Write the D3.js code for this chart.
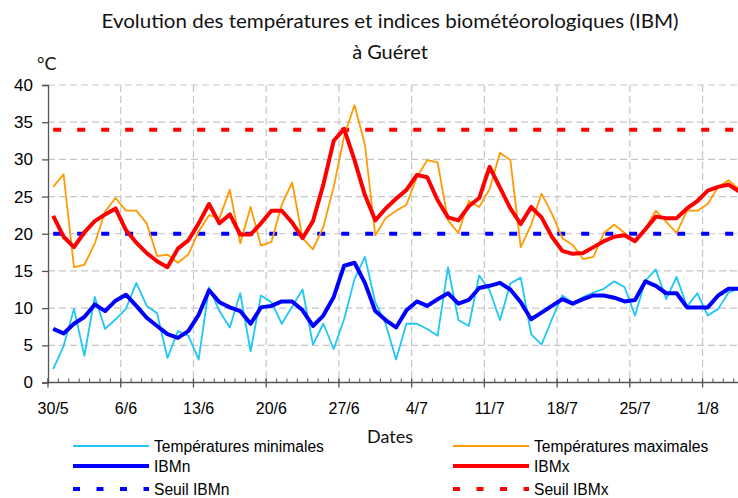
<!DOCTYPE html>
<html>
<head>
<meta charset="utf-8">
<script src="https://cdn.jsdelivr.net/npm/d3@7"></script>
<style>
  body { margin: 0; background: #fff; }
  svg { display: block; }
</style>
</head>
<body>
<div id="root"></div>
<script>
// daily values, 30/5 -> 4/8
const tmin = [
  1.8, 4.9, 9.9, 3.6, 11.5, 7.2, 8.5, 9.9, 13.4, 10.3,
  9.3, 3.3, 6.9, 6.3, 3.1, 12.8, 9.6, 7.4, 12.0, 4.2,
  11.7, 10.8, 7.9, 10.2, 12.5, 5.1, 7.9, 4.5, 8.5, 13.9,
  16.9, 10.8, 7.9, 3.1, 7.9, 7.9, 7.2, 6.3, 15.5, 8.4,
  7.6, 14.4, 12.4, 8.4, 13.3, 14.1, 6.5, 5.1, 8.5, 11.7,
  10.7, 11.5, 12.1, 12.6, 13.6, 12.8, 9.0, 13.7, 15.2, 11.2,
  14.2, 10.2, 12.0, 9.0, 9.9, 12.1, 12.6,
];
const tmax = [
  26.3, 28.0, 15.5, 15.8, 18.7, 23.0, 24.8, 23.1, 23.1, 21.4,
  17.0, 17.2, 16.1, 17.2, 20.3, 22.5, 22.1, 25.9, 18.7, 23.6,
  18.4, 18.9, 23.9, 26.9, 19.4, 17.9, 20.9, 26.3, 33.1, 37.3,
  32.0, 19.8, 22.1, 23.1, 23.9, 27.6, 29.9, 29.6, 21.8, 20.1,
  24.4, 23.6, 26.0, 30.9, 29.9, 18.2, 21.2, 25.4, 22.7, 19.4,
  18.5, 16.6, 16.9, 20.1, 21.2, 20.1, 19.1, 20.7, 23.1, 21.6,
  20.1, 23.1, 23.1, 24.0, 26.3, 27.2, 26.0,
];
const ibmn = [
  7.2, 6.6, 7.9, 8.8, 10.5, 9.6, 11.0, 11.8, 10.3, 8.7,
  7.6, 6.5, 6.0, 6.9, 9.1, 12.4, 10.8, 10.1, 9.6, 7.9,
  10.1, 10.3, 10.9, 10.9, 9.7, 7.6, 9.0, 11.5, 15.7, 16.1,
  13.4, 9.6, 8.4, 7.4, 9.7, 10.9, 10.3, 11.2, 12.0, 10.6,
  11.1, 12.7, 13.0, 13.4, 12.5, 10.8, 8.5, 9.4, 10.3, 11.2,
  10.6, 11.2, 11.7, 11.7, 11.4, 10.9, 11.1, 13.6, 13.0, 12.0,
  12.0, 10.1, 10.1, 10.1, 11.7, 12.6, 12.6,
];
const ibmx = [
  22.4, 19.6, 18.2, 20.2, 21.7, 22.6, 23.4, 20.5, 18.8, 17.4,
  16.3, 15.5, 18.0, 19.1, 21.4, 24.0, 21.4, 22.6, 19.9, 19.9,
  21.4, 23.1, 23.1, 21.5, 19.4, 21.7, 26.6, 32.5, 34.1, 29.9,
  25.2, 21.8, 23.4, 24.7, 25.9, 27.9, 27.6, 24.5, 22.2, 21.8,
  23.7, 24.8, 29.0, 26.2, 23.4, 21.3, 23.6, 22.2, 19.6, 17.7,
  17.3, 17.4, 18.2, 19.0, 19.6, 19.8, 19.0, 20.6, 22.3, 22.1,
  22.1, 23.4, 24.4, 25.8, 26.3, 26.6, 25.7,
];
const seuilN = 20;
const seuilX = 34;
const yTicks = [0, 5, 10, 15, 20, 25, 30, 35, 40];

const startDate = new Date(2019, 4, 30);
const days = tmin.map((_, i) => d3.timeDay.offset(startDate, i));
const weekTicks = d3.range(0, days.length, 7).map((i) => days[i]);

const W = 738;
const H = 498;
const plotLeft = 48;
const dayW = 10.39;
const plotTop = 85;
const plotBottom = 382.5;

const x = d3
  .scaleTime()
  .domain([startDate, d3.timeDay.offset(startDate, days.length)])
  .range([plotLeft, plotLeft + dayW * days.length]);
const y = d3.scaleLinear().domain([0, 40]).range([plotBottom, plotTop]);
const mid = (d) => x(d3.timeHour.offset(d, 12));
const fmt = d3.timeFormat("%-d/%-m");

const series = [
  { key: "seuilN", values: days.map(() => seuilN), color: "#0000ff", width: 4, dash: "8,16", label: "Seuil IBMn" },
  { key: "seuilX", values: days.map(() => seuilX), color: "#ff0000", width: 4, dash: "8,16", label: "Seuil IBMx" },
  { key: "tmin", values: tmin, color: "#1fc6f6", width: 1.8, label: "Températures minimales" },
  { key: "tmax", values: tmax, color: "#ff9a00", width: 1.8, label: "Températures maximales" },
  { key: "ibmn", values: ibmn, color: "#0000ff", width: 4, label: "IBMn" },
  { key: "ibmx", values: ibmx, color: "#ff0000", width: 4, label: "IBMx" },
];
const byKey = Object.fromEntries(series.map((s) => [s.key, s]));

const svg = d3
  .select("#root")
  .append("svg")
  .attr("width", W)
  .attr("height", H)
  .attr("viewBox", `0 0 ${W} ${H}`);

// titles
const titleFont = "Lato, 'Open Sans', sans-serif";
svg
  .append("text")
  .text("Evolution des températures et indices biométéorologiques (IBM)")
  .attr("x", 390)
  .attr("y", 28)
  .attr("text-anchor", "middle")
  .attr("textLength", 577)
  .attr("lengthAdjust", "spacingAndGlyphs")
  .attr("font-family", titleFont)
  .attr("font-size", 20)
  .attr("fill", "#111");
svg
  .append("text")
  .text("à Guéret")
  .attr("x", 390)
  .attr("y", 59)
  .attr("text-anchor", "middle")
  .attr("font-family", titleFont)
  .attr("font-size", 20)
  .attr("fill", "#111");
svg
  .append("text")
  .text("°C")
  .attr("x", 37)
  .attr("y", 70)
  .attr("font-family", titleFont)
  .attr("font-size", 18)
  .attr("fill", "#111");

// grid
const grid = svg.append("g").attr("stroke", "#c6c6c6").attr("stroke-width", 1.2).attr("stroke-dasharray", "7,4");
grid
  .selectAll("line.h")
  .data(yTicks.filter((d) => d > 0))
  .join("line")
  .attr("class", "h")
  .attr("x1", plotLeft)
  .attr("x2", W)
  .attr("y1", (d) => y(d))
  .attr("y2", (d) => y(d));
grid
  .selectAll("line.v")
  .data(weekTicks.slice(1))
  .join("line")
  .attr("class", "v")
  .attr("x1", (d) => x(d))
  .attr("x2", (d) => x(d))
  .attr("y1", plotTop)
  .attr("y2", plotBottom);

// axes
const axisFont = "'Liberation Sans', Arial, sans-serif";
const yAxis = svg
  .append("g")
  .attr("transform", `translate(${plotLeft},0)`)
  .call(d3.axisLeft(y).tickValues(yTicks).tickSize(6).tickPadding(9));
yAxis.selectAll("text").attr("font-family", axisFont).attr("font-size", 17).attr("fill", "#000");
yAxis.select(".domain").attr("stroke", "#555").attr("stroke-width", 1.3);
yAxis.selectAll(".tick line").attr("stroke", "#555").attr("stroke-width", 1.3);

const xAxis = svg.append("g").attr("transform", `translate(0,${plotBottom})`);
xAxis
  .append("line")
  .attr("x1", plotLeft)
  .attr("x2", W)
  .attr("stroke", "#555")
  .attr("stroke-width", 1.3);
xAxis
  .selectAll("line.minor")
  .data(days)
  .join("line")
  .attr("class", "minor")
  .attr("x1", (d) => x(d))
  .attr("x2", (d) => x(d))
  .attr("y1", -4)
  .attr("y2", 0)
  .attr("stroke", "#555");
xAxis
  .selectAll("line.major")
  .data(weekTicks)
  .join("line")
  .attr("class", "major")
  .attr("x1", (d) => x(d))
  .attr("x2", (d) => x(d))
  .attr("y1", -4)
  .attr("y2", 5)
  .attr("stroke", "#555")
  .attr("stroke-width", 1.3);
xAxis
  .selectAll("text")
  .data(weekTicks)
  .join("text")
  .text(fmt)
  .attr("x", mid)
  .attr("y", 31)
  .attr("text-anchor", "middle")
  .attr("font-family", axisFont)
  .attr("font-size", 16)
  .attr("fill", "#000");

svg
  .append("text")
  .text("Dates")
  .attr("x", 390)
  .attr("y", 443)
  .attr("text-anchor", "middle")
  .attr("font-family", titleFont)
  .attr("font-size", 18)
  .attr("fill", "#111");

// series
const line = d3
  .line()
  .x((d, i) => mid(days[i]))
  .y((d) => y(d));

series.forEach((s) => {
  svg
    .append("path")
    .attr("d", line(s.values))
    .attr("fill", "none")
    .attr("stroke", s.color)
    .attr("stroke-width", s.width)
    .attr("stroke-linejoin", "round")
    .attr("stroke-dasharray", s.dash || null);
});

// legend
const legendRows = [
  ["tmin", "tmax"],
  ["ibmn", "ibmx"],
  ["seuilN", "seuilX"],
];
const legendY = [446, 466, 489];
const legendX = [73, 453];

legendRows.forEach((row, r) => {
  row.forEach((key, c) => {
    const s = byKey[key];
    const g = svg.append("g").attr("transform", `translate(${legendX[c]},${legendY[r]})`);
    g.append("line")
      .attr("x1", 0)
      .attr("x2", 76)
      .attr("stroke", s.color)
      .attr("stroke-width", s.width)
      .attr("stroke-dasharray", s.dash ? "7,16.5" : null);
    g.append("text")
      .text(s.label)
      .attr("x", 81)
      .attr("y", 5.5)
      .attr("font-family", axisFont)
      .attr("font-size", 15.6)
      .attr("fill", "#000");
  });
});
</script>
</body>
</html>
